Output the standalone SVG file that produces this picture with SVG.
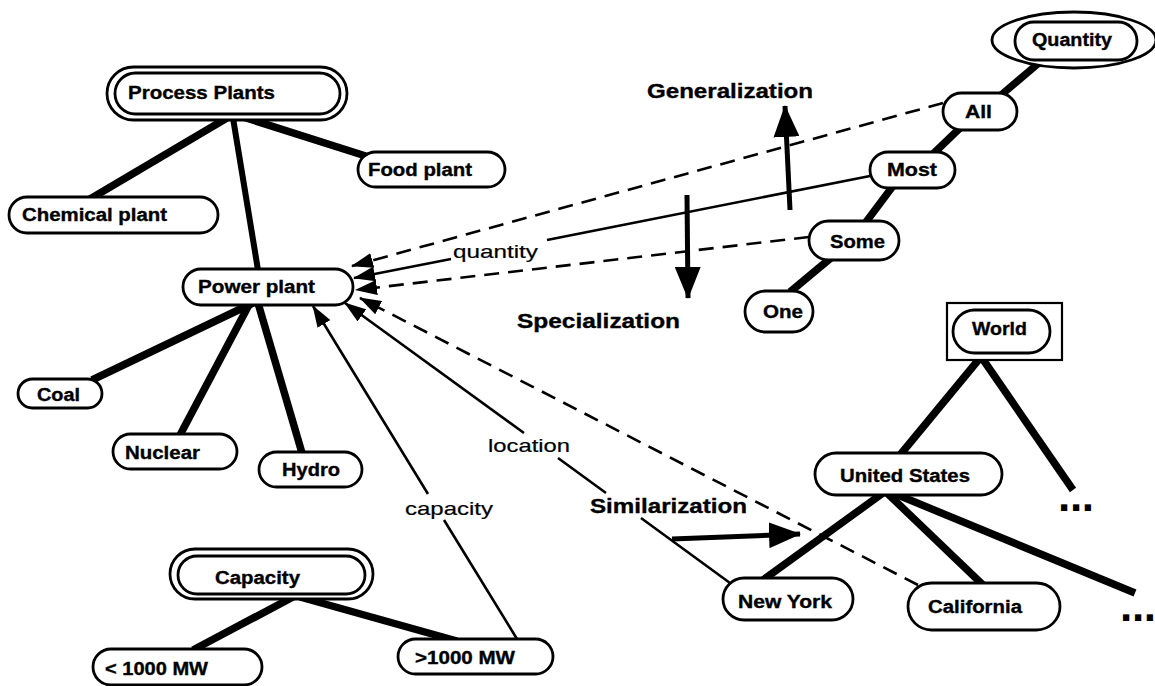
<svg xmlns="http://www.w3.org/2000/svg" width="1155" height="686" viewBox="0 0 1155 686">
  <style>
    .box { fill: #fff; stroke: #000; stroke-width: 2.8; }
    .frame { fill: #fff; stroke: #000; stroke-width: 2.2; }
    .tree { stroke: #000; stroke-width: 7.5; fill: none; }
    .link { stroke: #000; stroke-width: 2.6; fill: none; }
    .dash { stroke-dasharray: 15 9; }
    .big { stroke: #000; stroke-width: 5; fill: none; }
    text { font-family: "Liberation Sans", Arial, Helvetica, sans-serif; fill: #000; }
    .lbl { font-size: 18px; font-weight: bold; stroke: #000; stroke-width: 0.35; }
    .rel { font-size: 19px; stroke: #000; stroke-width: 0.2; }
    .dir { font-size: 21px; font-weight: bold; stroke: #000; stroke-width: 0.35; }
    .more { font-size: 44px; font-weight: bold; }
  </style>
  <defs>
    <marker id="tip" markerUnits="userSpaceOnUse" markerWidth="22" markerHeight="15" refX="21" refY="7.5" orient="auto">
      <path d="M0,0 L22,7.5 L0,15 z" fill="#000"/>
    </marker>
    <marker id="bigtip" markerUnits="userSpaceOnUse" markerWidth="32" markerHeight="26" refX="31" refY="13" orient="auto">
      <path d="M0,0 L32,13 L0,26 z" fill="#000"/>
    </marker>
  </defs>

  <!-- connectors: hierarchy edges, relation arrows and direction arrows -->
  <g id="connectors">
    <!-- process plant hierarchy -->
    <line class="tree" x1="227" y1="118" x2="90" y2="199"/>
    <line class="tree" x1="233" y1="118" x2="258" y2="270" style="stroke-width:6"/>
    <line class="tree" x1="240" y1="116" x2="372" y2="158"/>
    <line class="tree" x1="253" y1="303" x2="92" y2="380"/>
    <line class="tree" x1="250" y1="303" x2="180" y2="435"/>
    <line class="tree" x1="258" y1="303" x2="302" y2="453"/>
    <!-- capacity hierarchy -->
    <line class="tree" x1="293" y1="597" x2="193" y2="650"/>
    <line class="tree" x1="300" y1="597" x2="457" y2="641"/>
    <!-- quantity scale -->
    <line class="tree" x1="1040" y1="62" x2="1000" y2="96"/>
    <line class="tree" x1="960" y1="128" x2="933" y2="154"/>
    <line class="tree" x1="893" y1="186" x2="866" y2="222"/>
    <line class="tree" x1="832" y1="257" x2="790" y2="292"/>
    <!-- location hierarchy -->
    <line class="tree" x1="980" y1="358" x2="900" y2="455"/>
    <line class="tree" x1="982" y1="358" x2="1073" y2="490"/>
    <line class="tree" x1="883" y1="493" x2="763" y2="580"/>
    <line class="tree" x1="887" y1="493" x2="983" y2="585"/>
    <line class="tree" x1="893" y1="493" x2="1135" y2="593"/>

    <!-- relations into Power plant -->
    <path class="link dash" d="M943,103 L352,266" marker-end="url(#tip)"/>
    <path class="link" d="M870,176 L547,240 M451,259 L354,278" marker-end="url(#tip)"/>
    <path class="link dash" d="M809,237 L356,290" marker-end="url(#tip)"/>
    <path class="link dash" d="M918,585 L360,298" marker-end="url(#tip)"/>
    <path class="link" d="M730,583 L641,518 M606,493 L558,458 M524,433 L345,303" marker-end="url(#tip)"/>
    <path class="link" d="M517,639 L444,520 M428,494 L313,306" marker-end="url(#tip)"/>

    <!-- direction arrows -->
    <path class="big" d="M790,210 L785,106" marker-end="url(#bigtip)"/>
    <path class="big" d="M687,195 L688,298" marker-end="url(#bigtip)"/>
    <path class="big" d="M672,539 L800,534" marker-end="url(#bigtip)"/>
  </g>

  <!-- relation labels -->
  <text class="rel" x="453" y="258" textLength="85" lengthAdjust="spacingAndGlyphs">quantity</text>
  <text class="rel" x="488" y="452" textLength="82" lengthAdjust="spacingAndGlyphs">location</text>
  <text class="rel" x="405" y="515" textLength="88" lengthAdjust="spacingAndGlyphs">capacity</text>
  <text class="dir" x="647" y="98" textLength="166" lengthAdjust="spacingAndGlyphs">Generalization</text>
  <text class="dir" x="517" y="328" textLength="163" lengthAdjust="spacingAndGlyphs">Specialization</text>
  <text class="dir" x="590" y="513" textLength="157" lengthAdjust="spacingAndGlyphs">Similarization</text>

  <!-- nodes -->
  <g id="process-plants">
    <rect class="box" x="107" y="67" width="240" height="53" rx="26.5"/>
    <rect class="box" x="115" y="73" width="225" height="41" rx="20.5"/>
    <text class="lbl" x="128" y="99" textLength="147" lengthAdjust="spacingAndGlyphs">Process Plants</text>
  </g>
  <g id="food-plant">
    <rect class="box" x="358" y="152" width="147" height="35" rx="17.5"/>
    <text class="lbl" x="368" y="176" textLength="104" lengthAdjust="spacingAndGlyphs">Food plant</text>
  </g>
  <g id="chemical-plant">
    <rect class="box" x="9" y="197" width="209" height="36" rx="18"/>
    <text class="lbl" x="22" y="221" textLength="145" lengthAdjust="spacingAndGlyphs">Chemical plant</text>
  </g>
  <g id="power-plant">
    <rect class="box" x="183" y="269" width="170" height="36" rx="18"/>
    <text class="lbl" x="198" y="293" textLength="117" lengthAdjust="spacingAndGlyphs">Power plant</text>
  </g>
  <g id="coal">
    <rect class="box" x="18" y="379" width="84" height="29" rx="14.5"/>
    <text class="lbl" x="37" y="401" textLength="43" lengthAdjust="spacingAndGlyphs">Coal</text>
  </g>
  <g id="nuclear">
    <rect class="box" x="113" y="434" width="124" height="35" rx="17.5"/>
    <text class="lbl" x="125" y="459" textLength="75" lengthAdjust="spacingAndGlyphs">Nuclear</text>
  </g>
  <g id="hydro">
    <rect class="box" x="259" y="452" width="103" height="35" rx="17.5"/>
    <text class="lbl" x="282" y="476" textLength="58" lengthAdjust="spacingAndGlyphs">Hydro</text>
  </g>
  <g id="capacity">
    <rect class="box" x="170" y="549" width="203" height="50" rx="25"/>
    <rect class="box" x="178" y="556" width="187" height="38" rx="19"/>
    <text class="lbl" x="215" y="584" textLength="85" lengthAdjust="spacingAndGlyphs">Capacity</text>
  </g>
  <g id="below-1000">
    <rect class="box" x="93" y="649" width="169" height="36" rx="18"/>
    <text class="lbl" x="105" y="675" textLength="103" lengthAdjust="spacingAndGlyphs">&lt; 1000 MW</text>
  </g>
  <g id="above-1000">
    <rect class="box" x="398" y="639" width="155" height="35" rx="17.5"/>
    <text class="lbl" x="415" y="664" textLength="100" lengthAdjust="spacingAndGlyphs">&gt;1000 MW</text>
  </g>
  <g id="quantity">
    <ellipse class="box" cx="1074" cy="40" rx="82" ry="28"/>
    <rect class="box" x="1015" y="22" width="122" height="38" rx="19"/>
    <text class="lbl" x="1032" y="46" textLength="80" lengthAdjust="spacingAndGlyphs">Quantity</text>
  </g>
  <g id="all">
    <rect class="box" x="943" y="93" width="74" height="37" rx="18.5"/>
    <text class="lbl" x="965" y="118" textLength="27" lengthAdjust="spacingAndGlyphs">All</text>
  </g>
  <g id="most">
    <rect class="box" x="870" y="152" width="85" height="36" rx="18"/>
    <text class="lbl" x="887" y="176" textLength="50" lengthAdjust="spacingAndGlyphs">Most</text>
  </g>
  <g id="some">
    <rect class="box" x="809" y="221" width="90" height="39" rx="19.5"/>
    <text class="lbl" x="830" y="248" textLength="55" lengthAdjust="spacingAndGlyphs">Some</text>
  </g>
  <g id="one">
    <rect class="box" x="745" y="291" width="68" height="41" rx="20.5"/>
    <text class="lbl" x="763" y="318" textLength="40" lengthAdjust="spacingAndGlyphs">One</text>
  </g>
  <g id="world">
    <rect class="frame" x="947" y="303" width="115" height="57"/>
    <rect class="box" x="953" y="310" width="97" height="43" rx="21.5"/>
    <text class="lbl" x="972" y="335" textLength="55" lengthAdjust="spacingAndGlyphs">World</text>
  </g>
  <g id="united-states">
    <rect class="box" x="815" y="453" width="187" height="42" rx="21"/>
    <text class="lbl" x="840" y="482" textLength="130" lengthAdjust="spacingAndGlyphs">United States</text>
  </g>
  <g id="new-york">
    <rect class="box" x="723" y="578" width="130" height="42" rx="21"/>
    <text class="lbl" x="738" y="608" textLength="94" lengthAdjust="spacingAndGlyphs">New York</text>
  </g>
  <g id="california">
    <rect class="box" x="908" y="583" width="152" height="47" rx="23.5"/>
    <text class="lbl" x="928" y="613" textLength="94" lengthAdjust="spacingAndGlyphs">California</text>
  </g>
  <g id="more-world">
    <text class="more" x="1058" y="511" textLength="36" lengthAdjust="spacing">...</text>
  </g>
  <g id="more-states">
    <text class="more" x="1120" y="621" textLength="36" lengthAdjust="spacing">...</text>
  </g>
</svg>
